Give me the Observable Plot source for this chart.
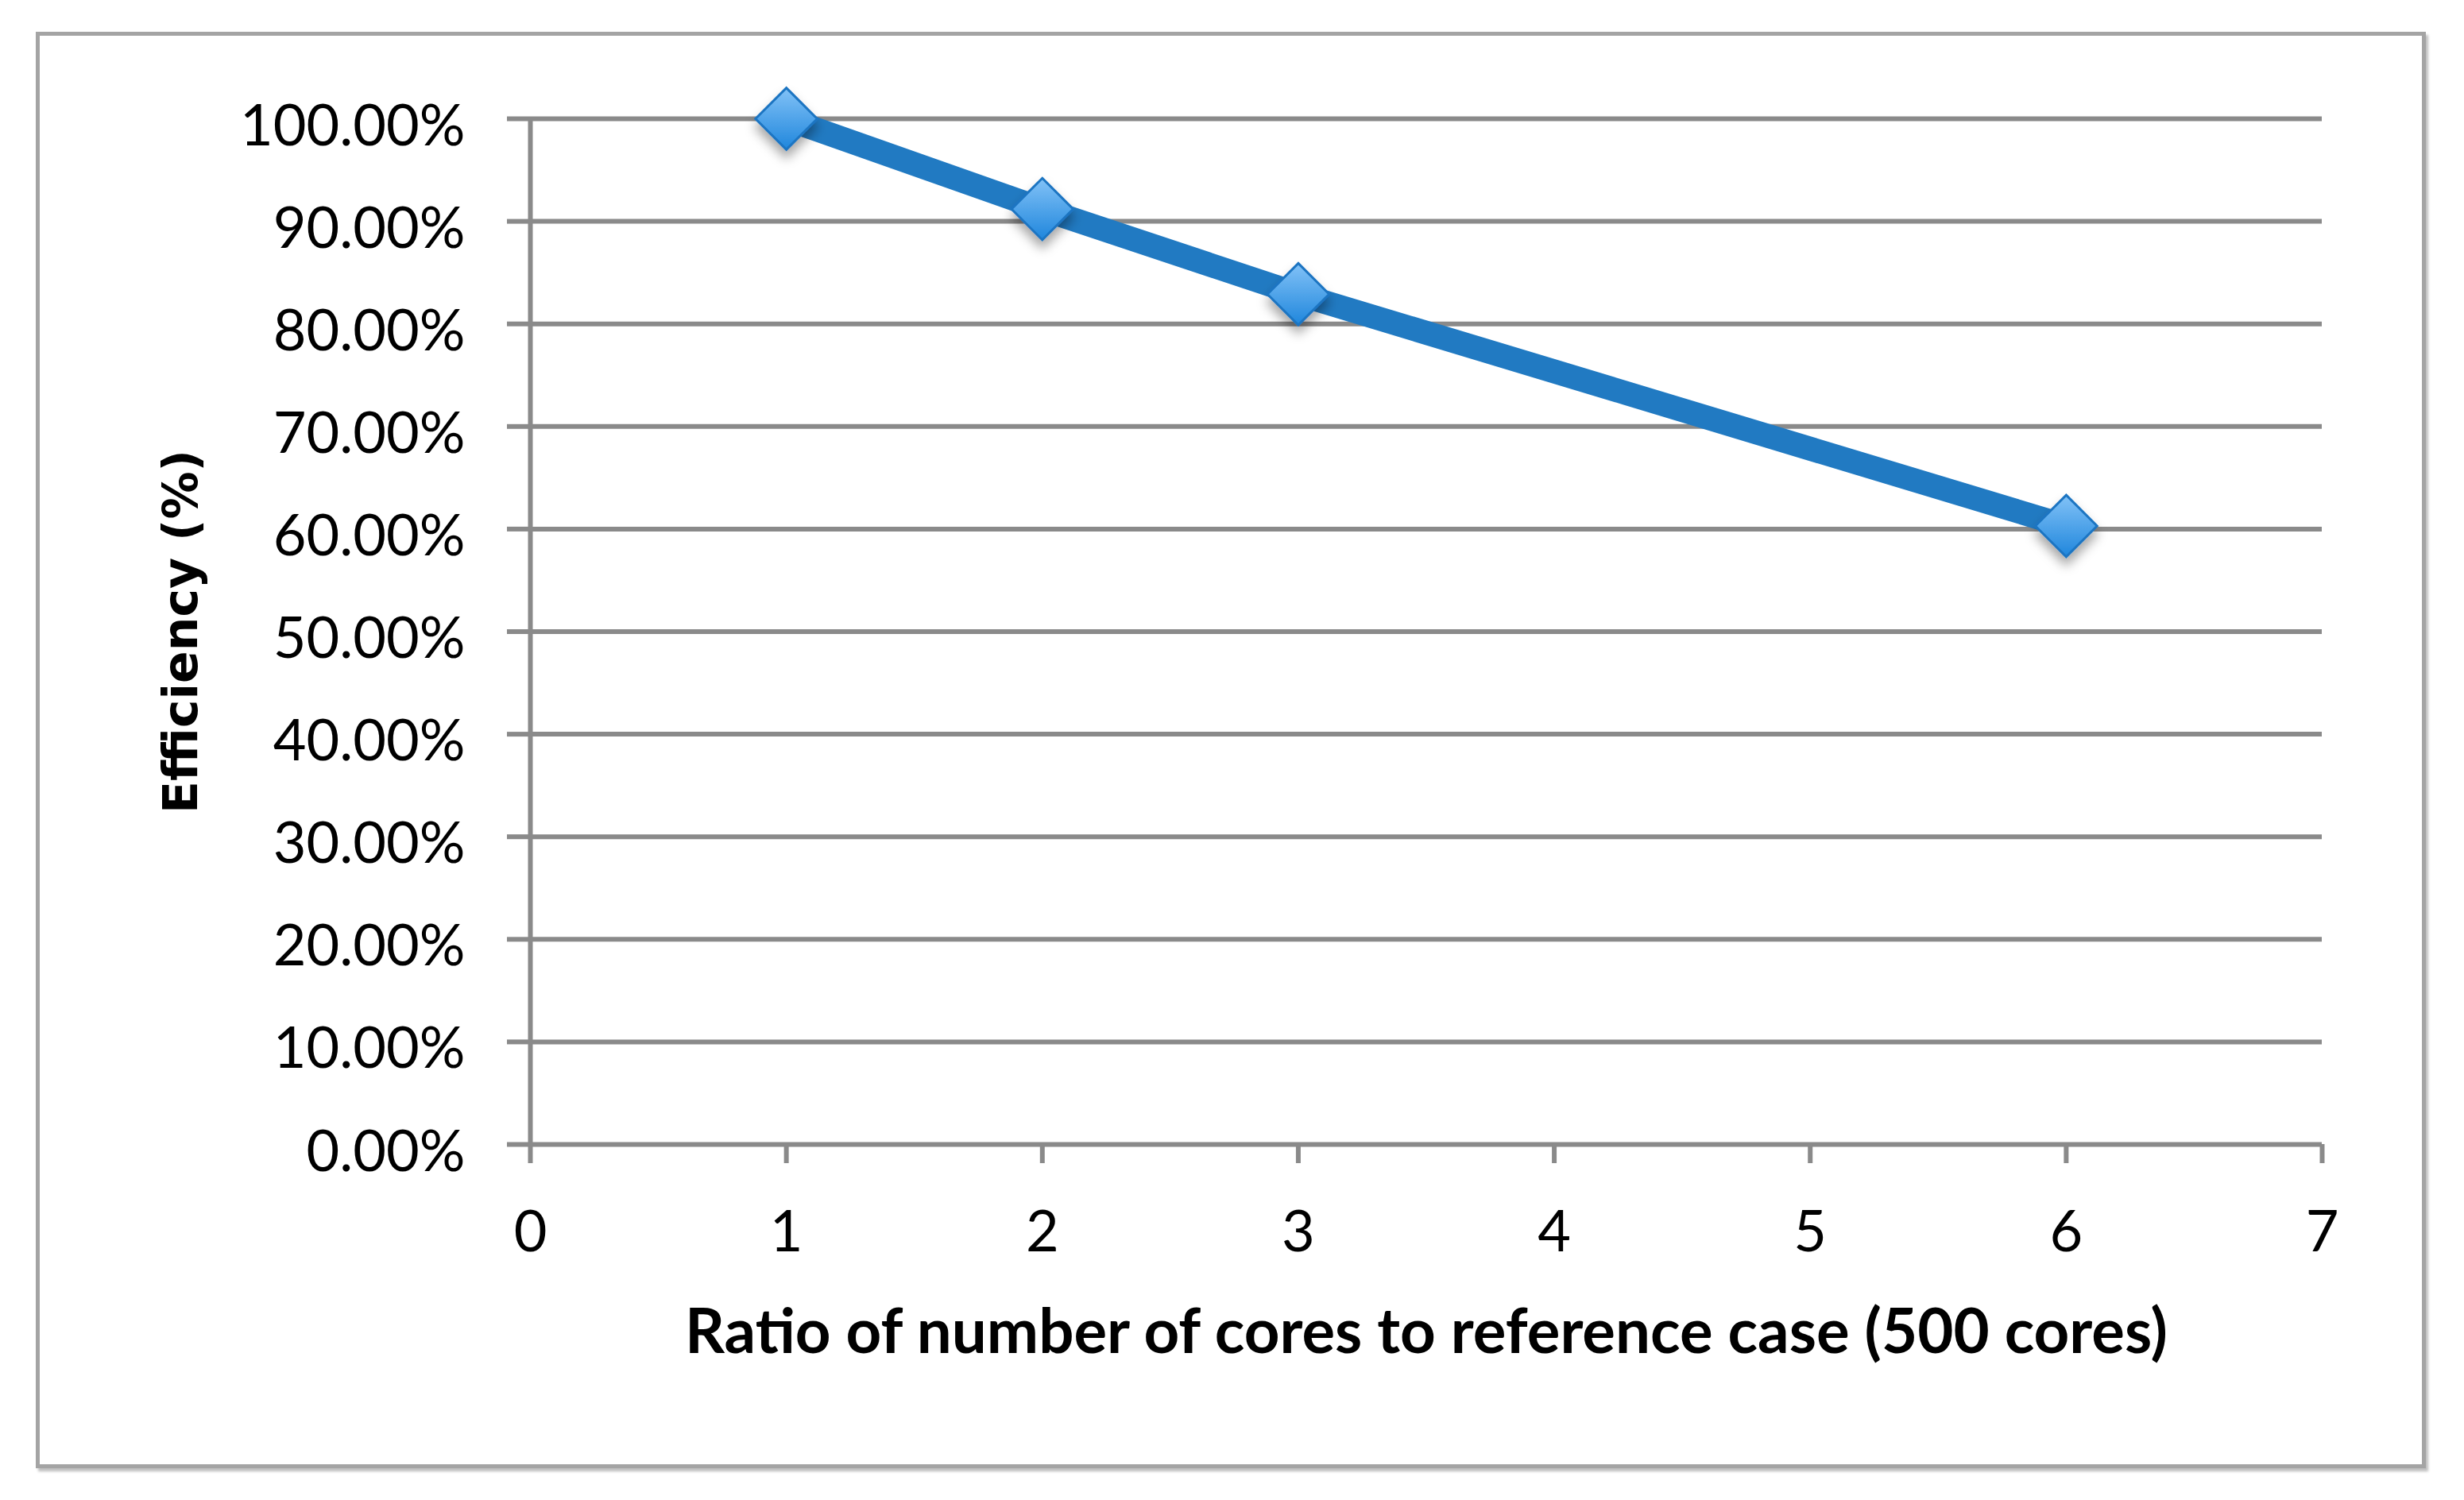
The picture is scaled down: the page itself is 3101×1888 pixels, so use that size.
<!DOCTYPE html>
<html><head><meta charset="utf-8">
<script src="https://cdn.jsdelivr.net/npm/d3@7"></script>
<script src="https://cdn.jsdelivr.net/npm/@observablehq/plot@0.6"></script>
<style>
html,body{margin:0;padding:0;background:#fff;overflow:hidden;}
#wrap{position:relative;width:3101px;height:1888px;}
#wrap svg{position:absolute;left:0;top:0;}
#border{position:absolute;left:45px;top:40px;width:3008px;height:1808px;box-sizing:border-box;border:5px solid #a4a4a4;box-shadow:3px 4px 3px rgba(0,0,0,0.25);pointer-events:none;}
</style></head><body><div id="wrap"><div id="border"></div></div>
<script>
const ratios = [1, 2, 3, 6];
const efficiency = [1.00, 0.912, 0.829, 0.603];
const xTicks = [0, 1, 2, 3, 4, 5, 6, 7];
const yTicks = [0, 0.1, 0.2, 0.3, 0.4, 0.5, 0.6, 0.7, 0.8, 0.9, 1.0];
const xLabel = "Ratio of number of cores to reference case (500 cores)";
const yLabel = "Efficiency (%)";

const data = ratios.map((r, i) => ({ratio: r, eff: efficiency[i]}));
const gridGray = "#8a8a8a";

const chart = Plot.plot({
  width: 3101, height: 1888,
  marginLeft: 667, marginRight: 179, marginTop: 149, marginBottom: 448,
  style: {fontFamily: "Lato", background: "transparent", overflow: "visible", color: "#000"},
  x: {domain: [0, 7]},
  y: {domain: [0, 1]},
  marks: [
    Plot.gridY(yTicks, {stroke: gridGray, strokeOpacity: 1, strokeWidth: 6}),
    Plot.ruleX([0], {y1: 0, y2: 1, stroke: gridGray, strokeWidth: 6}),
    Plot.axisY(yTicks, {tickFormat: () => "", tickSize: 29, stroke: gridGray, strokeWidth: 6, label: null}),
    Plot.axisY(yTicks, {tickFormat: d3.format(".2%"), tickSize: 0, tickPadding: 82, fontSize: 72, label: null, dy: 10}),
    Plot.axisX(xTicks, {tickFormat: d3.format("d"), tickSize: 24, tickPadding: 59, fontSize: 72, stroke: gridGray, strokeWidth: 6, label: null}),
    Plot.line(data, {x: "ratio", y: "eff", stroke: "#217ac2", strokeWidth: 30}),
    Plot.dot(data, {x: "ratio", y: "eff", symbol: "diamond2", r: 35, fill: "#4a9fe8", stroke: "#1b74c2", strokeWidth: 3}),
    Plot.text([xLabel], {frameAnchor: "bottom", dy: 262, fontSize: 78, fontWeight: "bold", fill: "#000"}),
    Plot.text([yLabel], {frameAnchor: "left", textAnchor: "middle", dx: -439, rotate: -90, fontSize: 60, fontWeight: "bold", fontFamily: "DejaVu Sans", fill: "#000"})
  ]
});

const wrap = document.getElementById("wrap");
wrap.insertBefore(chart, document.getElementById("border"));

const svg = d3.select(chart);
const defs = svg.insert("defs", ":first-child");
const g = defs.append("linearGradient").attr("id", "dg").attr("x1", 0).attr("y1", 0).attr("x2", 0).attr("y2", 1);
g.append("stop").attr("offset", "0%").attr("stop-color", "#82c2f7");
g.append("stop").attr("offset", "100%").attr("stop-color", "#1f86dc");
const f = defs.append("filter").attr("id", "ds").attr("x", "-50%").attr("y", "-50%").attr("width", "200%").attr("height", "200%");
f.append("feDropShadow").attr("dx", 0).attr("dy", 10).attr("stdDeviation", 7).attr("flood-color", "#000").attr("flood-opacity", 0.35);
svg.selectAll('g[aria-label="dot"] path').attr("fill", "url(#dg)").attr("filter", "url(#ds)");
</script>
</body></html>
